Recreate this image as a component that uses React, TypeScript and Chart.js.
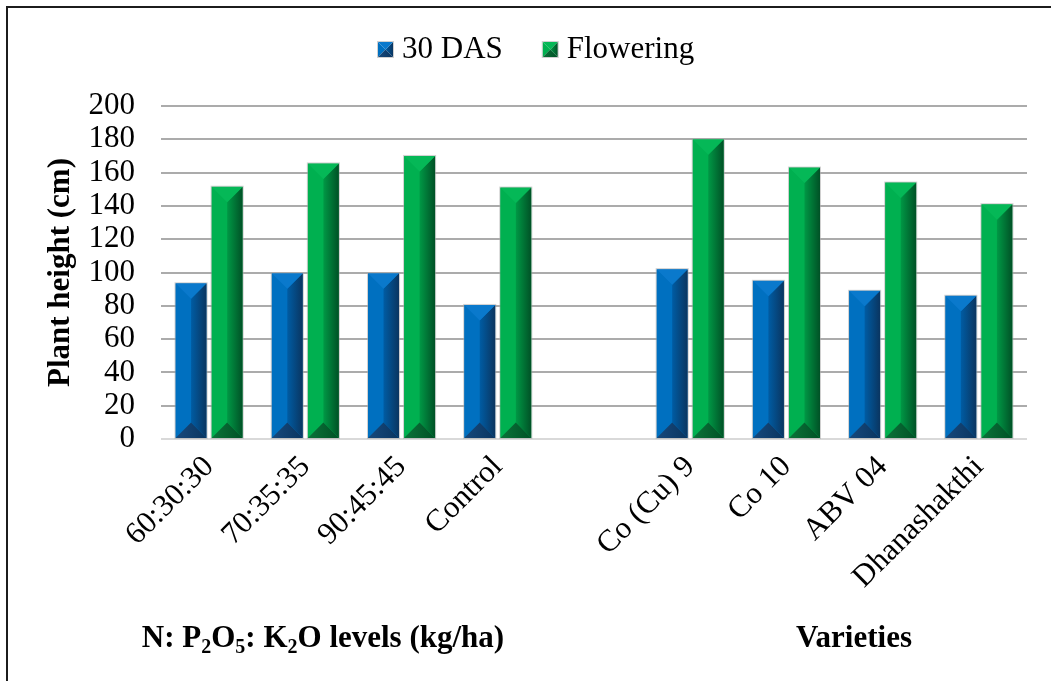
import React, { useEffect, useRef } from "react";
import { Chart, registerables } from "chart.js";

Chart.register(...registerables);

// Treatments (left group: fertiliser levels, right group: varieties); blank slot separates them
const categories = [
  "60:30:30",
  "70:35:35",
  "90:45:45",
  "Control",
  "",
  "Co (Cu) 9",
  "Co 10",
  "ABV 04",
  "Dhanashakthi",
];

const das30 = [93.5, 99.5, 99.5, 80.5, null, 102, 95, 89, 86];
const flowering = [151.5, 165.5, 170, 151, null, 180, 163, 154, 141];

const seriesNames = ["30 DAS", "Flowering"];
const yTicks = [0, 20, 40, 60, 80, 100, 120, 140, 160, 180, 200];

const FONT = "'Times New Roman', 'Liberation Serif', serif";

type Palette = { base: string; top: string; rightIn: string; rightOut: string; bottom: string };

const palettes: Palette[] = [
  { base: "#0070C0", top: "#0A79CC", rightIn: "#005CA3", rightOut: "#0A3560", bottom: "#17497C" },
  { base: "#00B050", top: "#05B857", rightIn: "#009845", rightOut: "#005126", bottom: "#0B7339" },
];

// Paint a bevelled block: light top wedge, plain left face, shaded right face, dark bottom wedge
function drawBevel(ctx: CanvasRenderingContext2D, L: number, T: number, w: number, h: number, p: Palette) {
  if (h <= 0 || w <= 0) return;
  const R = L + w;
  const B = T + h;
  const C = L + w / 2;
  const d = Math.min(w / 2, h / 2);
  ctx.save();
  // left face
  ctx.fillStyle = p.base;
  ctx.beginPath();
  ctx.moveTo(L, T);
  ctx.lineTo(C, T + d);
  ctx.lineTo(C, B - d);
  ctx.lineTo(L, B);
  ctx.closePath();
  ctx.fill();
  // right face
  const g = ctx.createLinearGradient(C, 0, R, 0);
  g.addColorStop(0, p.rightIn);
  g.addColorStop(1, p.rightOut);
  ctx.fillStyle = g;
  ctx.beginPath();
  ctx.moveTo(R, T);
  ctx.lineTo(C, T + d);
  ctx.lineTo(C, B - d);
  ctx.lineTo(R, B);
  ctx.closePath();
  ctx.fill();
  // top wedge
  ctx.fillStyle = p.top;
  ctx.beginPath();
  ctx.moveTo(L, T);
  ctx.lineTo(R, T);
  ctx.lineTo(C, T + d);
  ctx.closePath();
  ctx.fill();
  // bottom wedge
  const gb = ctx.createLinearGradient(L, 0, R, 0);
  gb.addColorStop(0, p.bottom);
  gb.addColorStop(1, p.rightOut);
  ctx.fillStyle = gb;
  ctx.beginPath();
  ctx.moveTo(L, B);
  ctx.lineTo(R, B);
  ctx.lineTo(C, B - d);
  ctx.closePath();
  ctx.fill();
  // faint outline
  ctx.strokeStyle = "rgba(170,170,170,0.55)";
  ctx.lineWidth = 1;
  ctx.strokeRect(L - 0.5, T - 0.5, w + 1, h + 1);
  ctx.restore();
}

type Seg = { t: string; sub?: boolean };

function drawRich(ctx: CanvasRenderingContext2D, segs: Seg[], cx: number, baseline: number) {
  const main = `bold 31px ${FONT}`;
  const small = `bold 20px ${FONT}`;
  let total = 0;
  for (const s of segs) {
    ctx.font = s.sub ? small : main;
    total += ctx.measureText(s.t).width;
  }
  let x = cx - total / 2;
  ctx.textAlign = "left";
  ctx.textBaseline = "alphabetic";
  ctx.fillStyle = "#000";
  for (const s of segs) {
    ctx.font = s.sub ? small : main;
    ctx.fillText(s.t, x, s.sub ? baseline + 6 : baseline);
    x += ctx.measureText(s.t).width;
  }
}

const decorPlugin = {
  id: "decor",
  afterDatasetsDraw(chart: any) {
    const ctx: CanvasRenderingContext2D = chart.ctx;
    chart.data.datasets.forEach((ds: any, di: number) => {
      const meta = chart.getDatasetMeta(di);
      meta.data.forEach((el: any, i: number) => {
        if (ds.data[i] == null) return;
        const { x, y, base, width } = el.getProps(["x", "y", "base", "width"], true);
        drawBevel(ctx, x - width / 2, y, width, base - y, palettes[di]);
      });
    });
  },
  afterDraw(chart: any) {
    const ctx: CanvasRenderingContext2D = chart.ctx;
    const area = chart.chartArea;
    ctx.save();

    // legend
    let lx = 378;
    ctx.font = `31px ${FONT}`;
    ctx.textBaseline = "alphabetic";
    ctx.textAlign = "left";
    chart.data.datasets.forEach((ds: any, di: number) => {
      drawBevel(ctx, lx, 42, 15, 15, palettes[di]);
      lx += 15 + 9;
      ctx.fillStyle = "#000";
      ctx.fillText(ds.label, lx, 58);
      lx += ctx.measureText(ds.label).width + 40;
    });

    // y-axis title
    ctx.save();
    ctx.translate(61, (area.top + area.bottom) / 2);
    ctx.rotate(-Math.PI / 2);
    ctx.font = `bold 31px ${FONT}`;
    ctx.textAlign = "center";
    ctx.textBaseline = "middle";
    ctx.fillStyle = "#000";
    ctx.fillText("Plant height (cm)", 0, 0);
    ctx.restore();

    // group titles under the x axis
    drawRich(
      ctx,
      [
        { t: "N: P" },
        { t: "2", sub: true },
        { t: "O" },
        { t: "5", sub: true },
        { t: ": K" },
        { t: "2", sub: true },
        { t: "O levels (kg/ha)" },
      ],
      323,
      647
    );
    drawRich(ctx, [{ t: "Varieties" }], 854, 647);
    ctx.restore();
  },
};

export default function App() {
  const ref = useRef<HTMLCanvasElement | null>(null);

  useEffect(() => {
    if (!ref.current) return;
    const chart = new Chart(ref.current, {
      type: "bar",
      data: {
        labels: categories,
        datasets: [
          { label: seriesNames[0], data: das30, backgroundColor: palettes[0].base },
          { label: seriesNames[1], data: flowering, backgroundColor: palettes[1].base },
        ],
      },
      options: {
        animation: false,
        responsive: false,
        maintainAspectRatio: false,
        layout: { padding: { top: 106, right: 24, bottom: 0, left: 0 } },
        datasets: { bar: { categoryPercentage: 0.75, barPercentage: 0.86 } },
        plugins: {
          legend: { display: false },
          tooltip: { enabled: false },
          title: { display: false },
        },
        scales: {
          x: {
            grid: { display: false, drawTicks: false },
            border: { display: false },
            ticks: {
              autoSkip: false,
              minRotation: 45,
              maxRotation: 45,
              padding: 10,
              color: "#000",
              font: { family: FONT, size: 31 },
            },
            afterFit: (s: any) => {
              s.height = 242;
            },
          },
          y: {
            min: 0,
            max: 200,
            afterBuildTicks: (s: any) => {
              s.ticks = yTicks.map((v) => ({ value: v }));
            },
            grid: {
              drawTicks: false,
              lineWidth: 2,
              color: (c: any) => (c.tick && c.tick.value === 0 ? "#D9D9D9" : "#ABABAB"),
            },
            border: { display: false },
            ticks: {
              autoSkip: false,
              padding: 26,
              color: "#000",
              font: { family: FONT, size: 31 },
            },
            afterFit: (s: any) => {
              s.width = 161;
            },
          },
        },
      },
      plugins: [decorPlugin],
    });
    return () => chart.destroy();
  }, []);

  return (
    <>
      <canvas
        ref={ref}
        width={1051}
        height={681}
        style={{ position: "fixed", left: 0, top: 0, width: 1051, height: 681, background: "#fff" }}
      />
      <div
        style={{
          position: "fixed",
          left: 6,
          top: 6,
          width: 1100,
          height: 800,
          border: "2px solid #1c1c1c",
          pointerEvents: "none",
        }}
      />
    </>
  );
}
